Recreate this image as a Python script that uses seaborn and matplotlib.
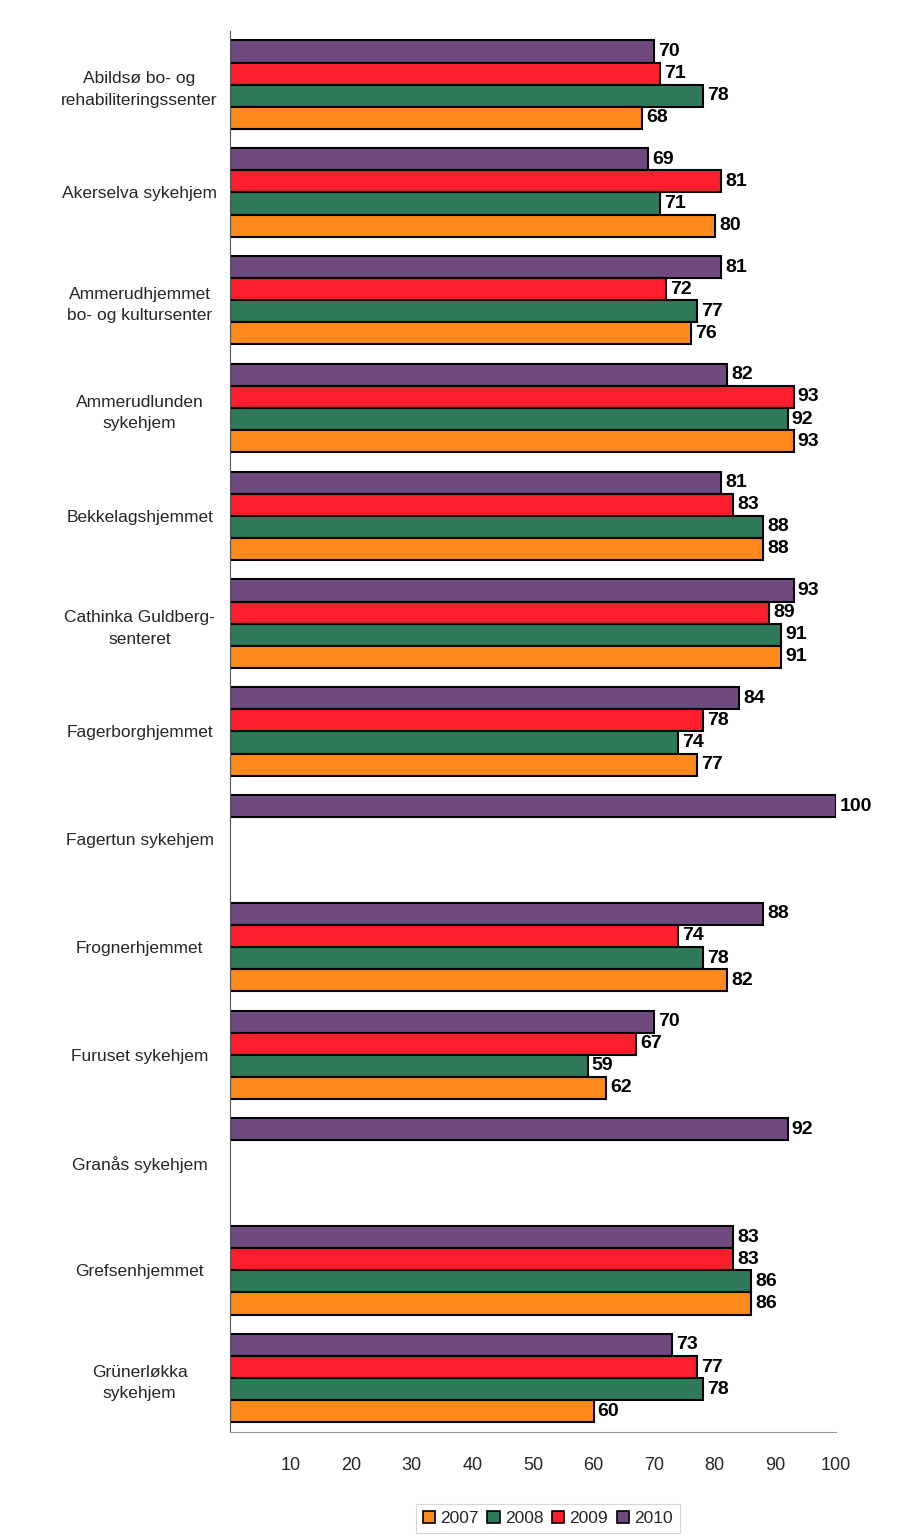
import numpy as np
import pandas as pd
import matplotlib
matplotlib.use("Agg")
import matplotlib.pyplot as plt
from matplotlib.patches import Patch
import seaborn as sns

categories = [
    "Abildsø bo- og\nrehabiliteringssenter",
    "Akerselva sykehjem",
    "Ammerudhjemmet\nbo- og kultursenter",
    "Ammerudlunden\nsykehjem",
    "Bekkelagshjemmet",
    "Cathinka Guldberg-\nsenteret",
    "Fagerborghjemmet",
    "Fagertun sykehjem",
    "Frognerhjemmet",
    "Furuset sykehjem",
    "Granås sykehjem",
    "Grefsenhjemmet",
    "Grünerløkka\nsykehjem",
]
nan = np.nan
v2010 = [70, 69, 81, 82, 81, 93, 84, 100, 88, 70, 92, 83, 73]
v2009 = [71, 81, 72, 93, 83, 89, 78, nan, 74, 67, nan, 83, 77]
v2008 = [78, 71, 77, 92, 88, 91, 74, nan, 78, 59, nan, 86, 78]
v2007 = [68, 80, 76, 93, 88, 91, 77, nan, 82, 62, nan, 86, 60]
years = ["2007", "2008", "2009", "2010"]
xticks = [10, 20, 30, 40, 50, 60, 70, 80, 90, 100]

colors = {"2007": "#FF8A1C", "2008": "#2F7A58", "2009": "#FF1E2D", "2010": "#6F4A80"}

series = {"2007": v2007, "2008": v2008, "2009": v2009, "2010": v2010}
rows = []
for y, vals in series.items():
    for c, v in zip(categories, vals):
        rows.append({"Category": c, "Year": y, "Value": v})
df = pd.DataFrame(rows)

sns.set_style("white")
plt.rcParams["font.family"] = ["Liberation Sans", "DejaVu Sans"]

fig = plt.figure(figsize=(8.98, 15.39), dpi=100)
ax = fig.add_axes([0.256, 0.0695, 0.675, 0.9105])

hue_order = ["2010", "2009", "2008", "2007"]
sns.barplot(data=df, y="Category", x="Value", hue="Year", hue_order=hue_order,
            order=categories, palette=colors, orient="h", width=0.82, saturation=1,
            edgecolor="black", linewidth=1.5, ax=ax, legend=False, errorbar=None)

for cont in ax.containers:
    ax.bar_label(cont, fmt="%d", padding=3, fontsize=14, fontweight="bold",
                 color="black")

ax.set_xlim(0, 100)
ax.set_ylim(len(categories) - 0.5, -0.5)
ax.set_xticks(xticks)
ax.set_xticklabels([str(t) for t in xticks], fontsize=13)
ax.set_xlabel("")
ax.set_ylabel("")
ax.tick_params(axis="x", direction="out", length=4, width=0.6, color="#888888", pad=14)
ax.tick_params(axis="y", which="major", length=0, pad=65)
ax.set_yticks(range(len(categories)))
ax.set_yticklabels(categories, fontsize=12.5, ha="center", multialignment="center",
                   linespacing=1.55)
ax.set_yticks(np.arange(-0.5, len(categories), 1.0), minor=True)
ax.tick_params(axis="y", which="minor", length=4, width=0.6, color="#777777", direction="out")

for s in ["top", "right"]:
    ax.spines[s].set_visible(False)
ax.spines["left"].set_color("#555555")
ax.spines["left"].set_linewidth(0.8)
ax.spines["bottom"].set_color("#999999")
ax.spines["bottom"].set_linewidth(0.8)

handles = [Patch(facecolor=colors[y], edgecolor="black", linewidth=1.2, label=y) for y in years]
leg = fig.legend(handles=handles, loc="lower center", bbox_to_anchor=(0.61, 0.004), ncol=4,
                 fontsize=12.5, frameon=True, fancybox=False, handlelength=0.7,
                 handleheight=0.7, handletextpad=0.3, columnspacing=0.5,
                 borderpad=0.4, borderaxespad=0.0)
leg.get_frame().set_edgecolor("#CCCCCC")
leg.get_frame().set_linewidth(0.8)

fig.savefig("out.png", dpi=100)
